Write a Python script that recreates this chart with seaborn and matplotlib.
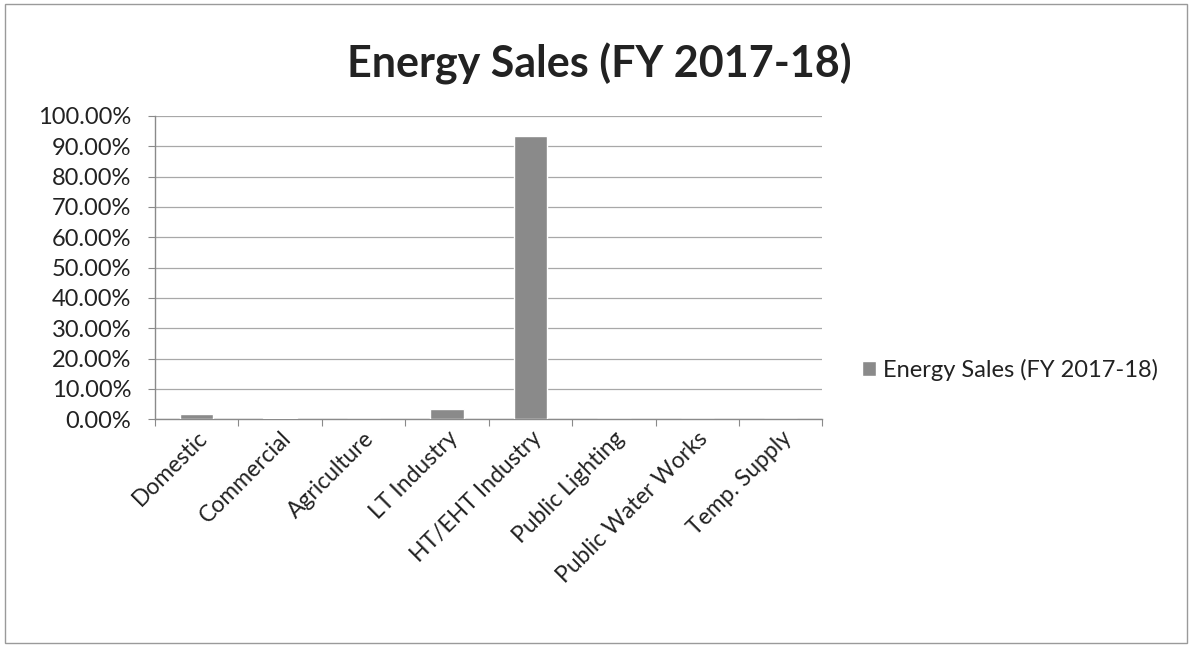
import matplotlib
matplotlib.use("Agg")
import matplotlib.pyplot as plt
import seaborn as sns
import pandas as pd
from matplotlib.ticker import FuncFormatter, FixedLocator, MultipleLocator

categories = ["Domestic", "Commercial", "Agriculture", "LT Industry", "HT/EHT Industry",
              "Public Lighting", "Public Water Works", "Temp. Supply"]
values = [1.6, 0.3, 0.2, 3.4, 93.4, 0.05, 0.15, 0.1]
series_name = "Energy Sales (FY 2017-18)"
title = "Energy Sales (FY 2017-18)"

sns.set_theme(style="white")
plt.rcParams['font.family'] = ['Lato', 'DejaVu Sans']

df = pd.DataFrame({"cat": categories, "val": values})

fig = plt.figure(figsize=(11.92, 6.47), dpi=100)
ax = fig.add_axes([0.130, 0.352, 0.560, 0.469])

sns.barplot(data=df, x="cat", y="val", color="#8a8a8a", width=0.4, saturation=1,
            ax=ax, label=series_name, zorder=3, legend=False)
if ax.get_legend() is not None:
    ax.get_legend().remove()

ax.set_ylim(0, 100)
ax.set_xlim(-0.5, len(categories) - 0.5)
ax.yaxis.set_major_locator(MultipleLocator(10))
ax.yaxis.set_major_formatter(FuncFormatter(lambda v, p: f"{v:.2f}%"))
ax.grid(axis="y", color="#a8a8a8", linewidth=0.9, zorder=0)
ax.set_axisbelow(True)
ax.set_xlabel("")
ax.set_ylabel("")

for s in ["top", "right"]:
    ax.spines[s].set_visible(False)
for s in ["left", "bottom"]:
    ax.spines[s].set_color("#8a8a8a")
    ax.spines[s].set_linewidth(1.0)

ax.tick_params(axis="y", labelsize=17, colors="#222222", length=5, width=0.8,
               direction="out", left=True, color="#8a8a8a", pad=12)
ax.set_xticks(range(len(categories)))
ax.set_xticklabels(categories, rotation=45, ha="right", rotation_mode="anchor",
                   fontsize=16.5, color="#222222")
ax.tick_params(axis="x", length=0, pad=6)
# boundary tick marks between categories (Excel style)
ax.xaxis.set_minor_locator(FixedLocator([i - 0.5 for i in range(len(categories) + 1)]))
ax.tick_params(axis="x", which="minor", length=5, width=0.8, color="#8a8a8a", bottom=True)

fig.suptitle(title, x=0.503, y=0.934, fontsize=31, fontweight="bold", color="#222222")

handles, labels = ax.get_legend_handles_labels()
fig.legend(handles[:1], labels[:1], loc="center left", bbox_to_anchor=(0.705, 0.428),
           frameon=False, fontsize=17, handlelength=0.6, handleheight=0.6,
           handletextpad=0.3, labelcolor="#222222")

border = plt.Rectangle((0.004, 0.006), 0.992, 0.988, transform=fig.transFigure,
                       fill=False, edgecolor="#9a9a9a", linewidth=1.0)
fig.add_artist(border)

fig.savefig("out.png", dpi=100, facecolor="white")
